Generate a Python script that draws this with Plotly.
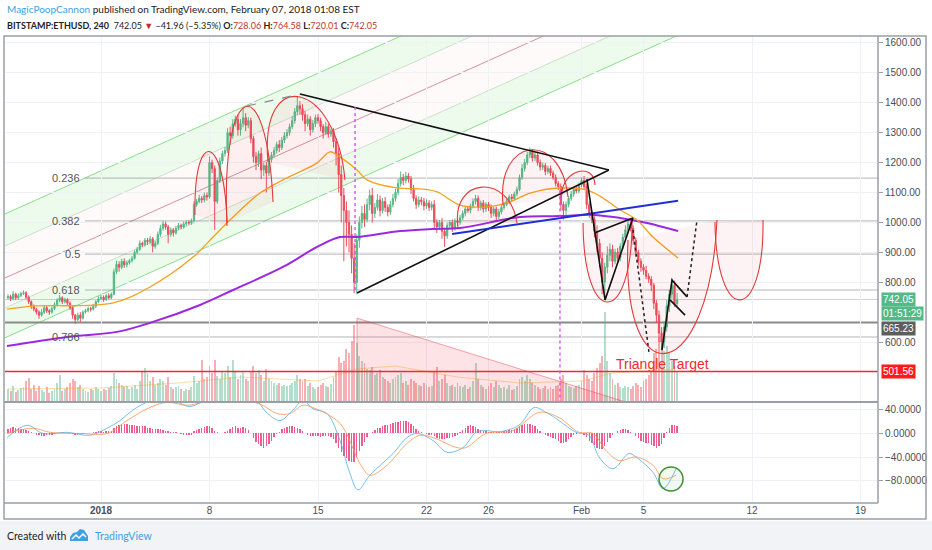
import plotly.graph_objects as go

# ---------------------------------------------------------------
# BITSTAMP:ETHUSD, 240 (4h candles) -- x is "days since 1 Jan 2018"
# ---------------------------------------------------------------
start_day = -6          # first candle: 26 Dec 2017 00:00
first_open = 748

closes = [
    752, 745, 760, 748, 755, 762,        # Dec 26
    765, 750, 735, 720, 710, 700,        # Dec 27
    690, 700, 715, 705, 700, 712,        # Dec 28
    725, 740, 748, 735, 742, 730,        # Dec 29
    715, 690, 675, 690, 680, 700,        # Dec 30
    705, 712, 710, 720, 735, 745,        # Dec 31
    750, 742, 755, 748, 760, 835,        # Jan 1
    860, 850, 870, 858, 865, 872,        # Jan 2
    880, 900, 910, 930, 925, 940,        # Jan 3
    935, 945, 920, 930, 960, 980,        # Jan 4
    995, 985, 960, 975, 965, 980,        # Jan 5
    990, 985, 995, 1000, 998, 1005,      # Jan 6
    1060, 1070, 1080, 1075, 1090, 1085,  # Jan 7
    1200, 1180, 1070, 1140, 1205, 1230,  # Jan 8
    1240, 1300, 1290, 1330, 1345, 1310,  # Jan 9
    1330, 1350, 1325, 1340, 1280, 1220,  # Jan 10
    1200, 1230, 1175, 1190, 1165, 1210,  # Jan 11
    1225, 1240, 1260, 1250, 1275, 1290,  # Jan 12
    1300, 1320, 1340, 1370, 1390, 1380,  # Jan 13
    1360, 1330, 1345, 1310, 1330, 1350,  # Jan 14
    1340, 1320, 1300, 1320, 1295, 1305,  # Jan 15
    1270, 1230, 1160, 1090, 1040, 1000,  # Jan 16
    960, 880, 800, 940, 1000, 1030,      # Jan 17
    1010, 1060, 1090, 1030, 1050, 1075,  # Jan 18
    1040, 1070, 1050, 1035, 1060, 1080,  # Jan 19
    1100, 1130, 1150, 1140, 1155, 1145,  # Jan 20
    1110, 1080, 1060, 1075, 1070, 1055,  # Jan 21
    1065, 1050, 1060, 1000, 985, 1000,   # Jan 22
    970, 955, 990, 1000, 980, 1005,      # Jan 23
    1000, 1015, 1030, 1045, 1040, 1055,  # Jan 24
    1070, 1080, 1050, 1065, 1045, 1060,  # Jan 25
    1050, 1030, 1045, 1020, 1035, 1050,  # Jan 26
    1060, 1070, 1085, 1080, 1095, 1110,  # Jan 27
    1150, 1180, 1200, 1225, 1235, 1215,  # Jan 28
    1225, 1200, 1185, 1190, 1170, 1180,  # Jan 29
    1165, 1150, 1130, 1120, 1060, 1040,  # Jan 30
    1060, 1080, 1095, 1110, 1105, 1125,  # Jan 31
    1140, 1120, 1060, 1030, 1010, 970,   # Feb 1
    930, 880, 800, 850, 890, 910,        # Feb 2
    870, 900, 880, 920, 950, 975,        # Feb 3
    995, 980, 940, 900, 870, 850,        # Feb 4
    840, 820, 810, 790, 730, 690,        # Feb 5
    630, 600, 650, 720, 760, 790,        # Feb 6
    728.06, 742.05,                      # Feb 7
]

# wick above max(open, close) / below min(open, close), in USD
wick_up = [
    8, 6, 10, 5, 8, 6,   8, 5, 6, 4, 6, 5,   6, 10, 8, 6, 5, 7,   8, 6, 9, 5, 6, 5,
    6, 5, 4, 8, 10, 6,   6, 7, 6, 8, 7, 8,   8, 6, 7, 8, 6, 10,   12, 10, 8, 10, 8, 6,
    8, 6, 8, 10, 6, 8,   8, 10, 6, 8, 10, 12,   10, 8, 6, 8, 6, 8,   8, 6, 8, 6, 7, 8,
    10, 8, 12, 8, 10, 10,   20, 10, 10, 10, 12, 10,   12, 15, 20, 15, 12, 15,
    15, 33, 15, 12, 10, 10,   15, 10, 20, 10, 12, 10,   10, 12, 10, 15, 10, 12,
    12, 10, 15, 12, 30, 15,   15, 12, 15, 10, 12, 10,   12, 10, 8, 15, 10, 8,
    10, 12, 20, 30, 25, 30,   40, 30, 50, 20, 20, 25,   30, 20, 20, 25, 15, 20,
    15, 12, 15, 10, 12, 15,   12, 15, 20, 12, 14, 10,   10, 15, 10, 12, 10, 12,
    12, 10, 10, 15, 10, 8,   15, 12, 10, 8, 10, 8,   8, 10, 10, 8, 10, 8,
    10, 12, 10, 8, 10, 8,   8, 10, 8, 8, 10, 8,   8, 10, 8, 10, 8, 10,
    10, 15, 12, 10, 15, 10,   10, 12, 10, 10, 8, 10,   10, 8, 10, 8, 10, 10,
    10, 8, 10, 8, 10, 8,   10, 15, 10, 10, 8, 10,   20, 15, 20, 15, 30, 20,
    15, 12, 15, 10, 12, 15,   15, 12, 10, 10, 8, 10,   10, 15, 10, 10, 8, 10,
    15, 20, 20, 20, 15, 25,   15, 22.53,
]
wick_dn = [
    6, 8, 5, 7, 6, 5,   5, 6, 8, 10, 7, 8,   12, 5, 6, 8, 9, 5,   5, 6, 7, 8, 6, 9,
    8, 12, 15, 6, 14, 5,   5, 6, 8, 5, 6, 5,   5, 7, 5, 6, 5, 4,   8, 15, 6, 10, 8, 6,
    6, 5, 6, 5, 8, 6,   10, 8, 20, 8, 6, 8,   8, 10, 30, 8, 12, 6,   6, 8, 6, 8, 6, 6,
    5, 8, 6, 10, 8, 12,   6, 15, 95, 8, 8, 10,   10, 8, 30, 10, 10, 20,
    20, 12, 20, 10, 15, 20,   25, 15, 30, 20, 65, 10,   10, 8, 10, 15, 8, 10,
    10, 10, 8, 10, 12, 20,   20, 25, 10, 20, 10, 12,   10, 15, 20, 8, 12, 10,
    20, 40, 60, 90, 170, 80,   60, 50, 36, 40, 25, 20,   25, 10, 20, 30, 15, 10,
    20, 10, 15, 15, 10, 10,   10, 10, 10, 15, 10, 12,   15, 10, 15, 10, 12, 15,
    10, 12, 10, 20, 20, 10,   25, 37, 10, 10, 12, 8,   10, 8, 8, 10, 8, 10,
    8, 10, 12, 10, 12, 10,   12, 15, 10, 15, 8, 8,   8, 6, 8, 8, 6, 8,
    6, 8, 10, 8, 10, 12,   10, 10, 12, 10, 12, 8,   10, 8, 10, 12, 20, 30,
    15, 10, 8, 10, 8, 8,   8, 10, 15, 15, 12, 20,   30, 30, 40, 60, 20, 20,
    20, 10, 15, 10, 10, 8,   10, 10, 15, 15, 12, 15,   15, 10, 12, 20, 20, 25,
    30, 27, 20, 15, 20, 15,   10, 8.05,
]

# volume (relative units, panel overlay)
volume = [
    12, 10, 15, 9, 11, 13,   14, 20, 23, 12, 16, 10,   15, 11, 9, 14, 8, 10,
    12, 18, 26, 10, 12, 14,   18, 22, 20, 14, 16, 12,   10, 9, 12, 11, 14, 12,
    10, 12, 11, 13, 15, 28,   22, 18, 16, 14, 15, 12,   14, 16, 12, 20, 30, 33,
    28, 20, 24, 16, 18, 22,   20, 16, 24, 14, 12, 14,   15, 12, 10, 12, 11, 14,
    25, 18, 20, 41, 22, 24,   35, 28, 41, 25, 22, 30,   28, 35, 24, 41, 30, 22,
    26, 30, 22, 20, 30, 35,   28, 31, 26, 20, 32, 22,   20, 18, 16, 18, 15, 16,
    15, 16, 18, 20, 26, 22,   20, 22, 15, 18, 14, 12,   14, 16, 18, 15, 14, 17,
    24, 30, 44, 38, 40, 52,   48, 60, 76, 58, 45, 40,   38, 32, 31, 34, 26, 28,
    31, 24, 22, 20, 18, 22,   24, 26, 28, 18, 20, 16,   22, 20, 18, 16, 15, 18,
    16, 14, 15, 30, 34, 20,   22, 26, 18, 15, 16, 14,   18, 15, 14, 16, 12, 14,
    20, 38, 22, 16, 14, 12,   15, 18, 14, 20, 16, 13,   14, 12, 16, 11, 12, 15,
    22, 24, 20, 26, 22, 18,   16, 14, 12, 13, 15, 12,   14, 12, 15, 16, 22, 26,
    18, 15, 14, 13, 15, 16,   20, 31, 26, 22, 20, 28,   33, 38, 45, 89, 40, 28,
    22, 16, 18, 14, 13, 15,   14, 12, 15, 18, 16, 14,   20, 22, 26, 30, 48, 52,
    64, 58, 50, 55, 48, 40,   35, 30,
]
vol_ma_x = [-6, 0, 5, 9, 14, 16.5, 19, 23, 27, 31, 33, 37]
vol_ma_y = [12, 13, 18, 24, 20, 32, 35, 24, 18, 20, 28, 32]

# MACD histogram, one bar per candle
macd_hist = [
    8, 10, 11, 10, 9, 8,   7, 6, 4, 2, 0, -2,   -3, -4, -4, -3, -2, -2,
    -1, 0, 1, 2, 1, 1,   0, -1, -2, -2, -1, -1,   0, 1, 1, 2, 3, 4,
    4, 3, 4, 5, 5, 9,   13, 15, 16, 17, 16, 15,   14, 14, 13, 13, 12, 12,
    10, 10, 8, 7, 7, 7,   6, 5, 4, 3, 3, 2,   0, -1, -2, -3, -3, -2,
    4, 6, 7, 9, 11, 12,   13, 10, 5, 2, 0, 1,   2, 5, 8, 11, 12, 10,
    10, 11, 9, 6, 0, -8,   -14, -18, -22, -24, -22, -18,   -12, -6, -1, 3, 7, 10,
    11, 12, 12, 11, 10, 8,   4, 0, -2, -4, -5, -5,   -5, -6, -5, -4, -5, -6,
    -10, -16, -24, -32, -38, -42,   -46, -49, -48, -40, -30, -22,   -14, -6, 0, 3, 6, 9,
    10, 12, 14, 15, 16, 18,   19, 20, 21, 22, 21, 20,   16, 12, 8, 5, 3, 0,
    -1, -2, -3, -5, -8, -9,   -10, -10, -8, -7, -6, -4,   -2, 2, 6, 10, 12, 14,
    13, 11, 8, 6, 5, 4,   3, 2, 2, 2, 3, 3,   4, 5, 6, 6, 7, 9,
    12, 14, 16, 17, 17, 15,   12, 8, 4, 1, -2, -4,   -6, -8, -10, -12, -16, -17,
    -14, -10, -6, -3, -1, 0,   0, -2, -6, -12, -16, -20,   -24, -27, -26, -22, -14, -8,
    -3, 1, 4, 6, 8, 8,   6, 3, 0, -4, -8, -12,   -14, -16, -17, -19, -22, -24,
    -22, -18, -8, 3, 10, 14,   14, 13,
]
macd_x = [-6.06, -4.77, -3.74, -2.19, -0.71, 0.39, 1.23, 2.06, 3.16, 4.45, 5.74, 6.71,
          8.32, 9.94, 10.71, 11.55, 12.39, 13.03, 13.68, 14.58, 15.42, 16.06, 16.58,
          17.35, 18.84, 19.74, 20.39, 21.42, 22.32, 23.35, 24.19, 24.84, 25.68, 26.97,
          27.94, 28.71, 29.55, 30.65, 31.48, 32.13, 33.03, 34.06, 34.52, 35.61, 36.26, 37.10]
macd_y = [-7, 14, 0, 2, -3, 9, 22, 40, 55, 58, 46, 56,
          65, 58, 35, 22, 40, 56, 42, 34, -12, -68, -96,
          -71, -34, -7, 0, -12, -32, -24, 2, 5, 3, 14,
          44, 36, 22, 2, -3, -40, -60, -34, -40, -66, -94, -60]
signal_x = [-6.06, -4.39, -3.29, -1.16, 0.39, 1.68, 2.97, 4.26, 5.55, 6.58, 8.32,
            10.26, 11.35, 12.19, 13.03, 13.68, 15.42, 16.71, 17.35, 18.45, 19.74,
            20.58, 21.42, 22.97, 23.55, 24.84, 26.58, 28.26, 29.55, 30.84, 31.74,
            32.58, 33.42, 34.52, 35.61, 36.26, 37.10]
signal_y = [0, 9, 2, 0, 0, 22, 42, 53, 48, 53, 60,
            50, 34, 34, 48, 44, 17, -51, -71, -54, -17,
            -3, -7, -24, -24, 0, 5, 36, 27, 2, 0,
            -29, -46, -40, -54, -77, -71]

# moving averages on price
ema_x = [-6.06, -4.39, 0.77, 3.16, 5.94, 7.23, 8.52, 10.26, 11.74, 13.94, 14.77, 15.23,
         16.52, 17.16, 19.10, 20.58, 21.68, 23.16, 24.90, 26.19, 27.68, 29.61, 31.35,
         32.19, 33.48, 34.58, 35.61, 37.23]
ema_y = [710, 720, 731, 784, 884, 951, 1018, 1098, 1142, 1199, 1236, 1225,
         1175, 1142, 1115, 1112, 1102, 1058, 1052, 1065, 1098, 1115, 1108,
         1088, 1042, 1008, 951, 881]
sma_x = [-6.06, -2.19, 1.03, 3.16, 6.39, 8.52, 11.74, 13.94, 15.42, 16.52, 19.29, 21.42,
         23.16, 27.03, 29.61, 31.74, 33.48, 35.23, 37.23]
sma_y = [587, 617, 634, 664, 724, 774, 851, 918, 951, 951, 971, 978,
         981, 1018, 1021, 1025, 1015, 998, 971]

# fibonacci retracement levels
fib_labels = ["0.236", "0.382", "0.5", "0.618", "0.786"]
fib_prices = [1148, 1005, 894, 774, 617]

# regression channel (upper, +1, mid, -1, lower) at its two ends
chan_days = [-6.2, 40.0]
chan_start = [1028, 921, 814, 714, 614]
chan_end = [2104, 1997, 1890, 1790, 1690]

# arcs: (start day, price, apex day, price, end day, price)
arcs = [
    (6.06, 1025, 7.03, 1236, 8.13, 988),
    (8.13, 998, 9.29, 1386, 11.10, 1068),
    (10.77, 1202, 12.84, 1419, 15.74, 1142),
    (23.03, 985, 24.58, 1118, 26.84, 998),
    (25.94, 1058, 27.68, 1242, 30.13, 1085),
    (29.74, 1092, 30.77, 1169, 31.87, 1125),
    (31.10, 998, 32.71, 734, 34.26, 1008),
    (34.00, 941, 36.52, 563, 39.74, 1008),
    (39.61, 1001, 41.23, 741, 42.71, 1008),
]

# trend-line drawings: lists of (day, price)
triangle_top = [(12.84, 1429), (32.77, 1175)]
triangle_low = [(16.52, 764), (32.77, 1175)]
tops_dash = [(9.42, 1389), (12.84, 1429)]
blue_line = [(22.65, 961), (37.23, 1072)]
flag1 = [(31.35, 1145), (32.52, 741), (34.32, 1015)]
flag1b = [(31.87, 965), (34.32, 1015)]
flag2 = [(36.19, 573), (36.84, 807), (37.81, 751)]
flag2b = [(36.71, 741), (37.68, 690)]
dotted1 = [(34.32, 975), (35.35, 567)]
dotted2 = [(37.81, 751), (38.45, 1008)]
vlines = [(16.39, 774, 1386), (29.61, 395, 1115)]
vol_triangle = [(16.52, 680), (16.52, 395), (34.13, 395)]

last_price = 742.05
hline_grey = 665.23
target = 501.56
# right-axis price tags: text, price where the tag is centred, colour
tags = [("742.05", 742.05, "#53b987"), ("01:51:29", 694, "#53b987"),
        ("665.23", 647, "#5d5d5d"), ("501.56", 501.56, "#ff1a1a")]

tick_days = [0, 7, 14, 21, 25, 31, 35, 42, 49]
tick_text = ["<b>2018</b>", "8", "15", "22", "26", "Feb", "5", "12", "19"]

# ---------------------------------------------------------------
UP, DN = "#53b987", "#eb4d5c"
FONT = "Liberation Sans"
L, R, T, B = 5, 878, 36, 503        # plot area in page pixels


def px(x):
    return (x - L) / (R - L)


def py(y):
    return (B - y) / (B - T)


n = len(closes)
assert all(len(a) == n for a in (wick_up, wick_dn, volume, macd_hist))
opens = [first_open] + closes[:-1]
highs = [max(o, c) + u for o, c, u in zip(opens, closes, wick_up)]
lows = [min(o, c) - d for o, c, d in zip(opens, closes, wick_dn)]
times = [start_day + i / 6 for i in range(n)]
vol_colors = ["rgba(83,185,135,0.45)" if c >= o else "rgba(235,77,92,0.45)"
              for o, c in zip(opens, closes)]

fig = go.Figure()

fig.add_trace(go.Bar(x=times, y=volume, marker_color=vol_colors, marker_line_width=0,
                     width=0.12, xaxis="x", yaxis="y3", hoverinfo="skip"))
fig.add_trace(go.Scatter(x=vol_ma_x, y=vol_ma_y, mode="lines", xaxis="x", yaxis="y3",
                         line=dict(color="rgba(255,152,0,0.35)", width=1)))

fig.add_trace(go.Scatter(x=sma_x, y=sma_y, mode="lines", line=dict(color="#9c27e0", width=2),
                         line_shape="spline"))
fig.add_trace(go.Scatter(x=ema_x, y=ema_y, mode="lines", line=dict(color="#f4a21c", width=1.3),
                         line_shape="spline"))
fig.add_trace(go.Candlestick(
    x=times, open=opens, high=highs, low=lows, close=closes,
    increasing=dict(line=dict(color=UP, width=1), fillcolor=UP),
    decreasing=dict(line=dict(color=DN, width=1), fillcolor=DN),
    whiskerwidth=0, hoverinfo="skip"))

# MACD panel
fig.add_trace(go.Bar(x=times, y=macd_hist, marker_color="rgba(236,64,122,0.85)",
                     marker_line_width=0, width=0.09, xaxis="x2", yaxis="y2"))
fig.add_trace(go.Scatter(x=macd_x, y=macd_y, mode="lines", xaxis="x2", yaxis="y2",
                         line=dict(color="rgba(70,170,235,0.75)", width=1), line_shape="spline"))
fig.add_trace(go.Scatter(x=signal_x, y=signal_y, mode="lines", xaxis="x2", yaxis="y2",
                         line=dict(color="rgba(245,150,80,0.8)", width=1), line_shape="spline"))

shapes = []


def seg(points, color, width=1.5, dash="solid", layer="above"):
    d = "M " + " L ".join(f"{x},{y}" for x, y in points)
    shapes.append(dict(type="path", path=d, xref="x", yref="y", layer=layer,
                       line=dict(color=color, width=width, dash=dash)))


# regression channel bands
band_fill = ["rgba(60,210,60,0.09)", "rgba(240,120,120,0.035)",
             "rgba(240,120,120,0.035)", "rgba(60,210,60,0.09)"]
for i in range(4):
    a0, a1 = chan_start[i], chan_end[i]
    b0, b1 = chan_start[i + 1], chan_end[i + 1]
    d = (f"M {chan_days[0]},{a0} L {chan_days[1]},{a1} L {chan_days[1]},{b1} "
         f"L {chan_days[0]},{b0} Z")
    shapes.append(dict(type="path", path=d, xref="x", yref="y", layer="below",
                       fillcolor=band_fill[i], line_width=0))
chan_colors = ["#86df86", "rgba(130,170,130,0.35)", "rgba(200,110,125,0.75)",
               "rgba(130,170,130,0.35)", "#86df86"]
for i in range(5):
    seg([(chan_days[0], chan_start[i]), (chan_days[1], chan_end[i])], chan_colors[i], 1, layer="below")

# fib lines and full-width levels
for p in fib_prices:
    seg([(-1.03, p), (51, p)], "rgba(120,120,120,0.55)", 1, layer="below")
seg([(-7, last_price), (51, last_price)], "rgba(150,150,150,0.45)", 1, layer="below")
seg([(-7, hline_grey), (51, hline_grey)], "#8a8a8a", 2, layer="below")
seg([(-7, target), (51, target)], "#f02b2b", 1.3)

# volume triangle
d = "M " + " L ".join(f"{x},{y}" for x, y in vol_triangle) + " Z"
shapes.append(dict(type="path", path=d, xref="x", yref="y", layer="above",
                   fillcolor="rgba(242,54,69,0.14)", line=dict(color="rgba(242,54,69,0.45)", width=1)))

# arcs
for x0, y0, xa, ya, x1, y1 in arcs:
    s = (xa - (x0 + x1) / 2) / 0.75
    h = (ya - (y0 + y1) / 2) / 0.75
    curve = f"M {x0},{y0} C {x0 + s},{y0 + h} {x1 + s},{y1 + h} {x1},{y1}"
    shapes.append(dict(type="path", path=curve + " Z", xref="x", yref="y", layer="above",
                       fillcolor="rgba(242,54,69,0.06)", line_width=0))
    shapes.append(dict(type="path", path=curve, xref="x", yref="y", layer="above",
                       line=dict(color="#e23a3a", width=1.1)))

seg(tops_dash, "#888888", 1.2, "dash")
seg(triangle_top, "#111111", 1.6)
seg(triangle_low, "#111111", 1.6)
seg(blue_line, "#1f2fd6", 2)
seg(flag1, "#111111", 1.6)
seg(flag1b, "#111111", 1.6)
seg(flag2, "#111111", 1.6)
seg(flag2b, "#111111", 1.6)
seg(dotted1, "#222222", 1.5, "dot")
seg(dotted2, "#222222", 1.5, "dot")
for x, y0, y1 in vlines:
    seg([(x, y0), (x, y1)], "#e040fb", 1.3, "dot")

# green circle on the MACD
shapes.append(dict(type="circle", xref="x2", yref="y2", x0=36.0, x1=37.55, y0=-97.8, y1=-57,
                   line=dict(color="#3f8f35", width=1.5), fillcolor="rgba(120,200,120,0.1)"))

# frame, separators and page strips
grey = "#9a9ea7"
shapes += [
    dict(type="rect", xref="paper", yref="paper", x0=px(-20), x1=px(960), y0=py(521), y1=py(560),
         fillcolor="#f1f3f7", line_width=0, layer="below"),
    dict(type="rect", xref="paper", yref="paper", x0=px(4), x1=px(926), y0=py(519), y1=py(36),
         line=dict(color=grey, width=1.5), fillcolor="rgba(0,0,0,0)"),
    dict(type="line", xref="paper", yref="paper", x0=px(4), x1=px(878), y0=py(402), y1=py(402),
         line=dict(color=grey, width=2)),
    dict(type="line", xref="paper", yref="paper", x0=px(4), x1=px(878), y0=py(503), y1=py(503),
         line=dict(color=grey, width=1.5)),
    dict(type="line", xref="paper", yref="paper", x0=px(878), x1=px(878), y0=py(503), y1=py(36),
         line=dict(color=grey, width=1.5)),
]

# TradingView logo (small cloud)
logo = [(70, 541), (70, 537), (73, 533), (77, 532), (80, 529), (84, 530), (86, 533), (88, 536), (88, 541)]
shapes.append(dict(type="path", xref="paper", yref="paper",
                   path="M " + " L ".join(f"{px(a)},{py(b)}" for a, b in logo) + " Z",
                   fillcolor="#3ea0e4", line_width=0))
zig = [(72, 539), (76, 535), (79, 538), (83, 534), (86, 537)]
shapes.append(dict(type="path", xref="paper", yref="paper",
                   path="M " + " L ".join(f"{px(a)},{py(b)}" for a, b in zig),
                   line=dict(color="white", width=1.5)))

ann = []
for lab, p in zip(fib_labels, fib_prices):
    ann.append(dict(x=-1.25, y=p, xref="x", yref="y", text=lab, showarrow=False,
                    xanchor="right", yanchor="middle", font=dict(family=FONT, size=11, color="#555")))
ann.append(dict(x=36.2, y=527, xref="x", yref="y", text="Triangle Target", showarrow=False,
                font=dict(family=FONT, size=14, color="#f02b2b")))

for txt, yv, bg in tags:
    ann.append(dict(x=px(881), y=yv, xref="paper", yref="y", text=txt, showarrow=False,
                    xanchor="left", yanchor="middle", bgcolor=bg, borderpad=1,
                    font=dict(family=FONT, size=10, color="white")))

red = "#c0392b"
HEAD = "Lato"
ann += [
    dict(x=px(5), y=py(9), xref="paper", yref="paper", xanchor="left", yanchor="middle",
         showarrow=False, font=dict(family=HEAD, size=10, color="#222"),
         text='<span style="color:#3ea0e4">MagicPoopCannon</span> published on TradingView.com, '
              'February 07, 2018 01:08 EST'),
    dict(x=px(5), y=py(25), xref="paper", yref="paper", xanchor="left", yanchor="middle",
         showarrow=False, font=dict(family=HEAD, size=9, color="#222"),
         text=f'<b>BITSTAMP:ETHUSD, 240</b>  742.05 <span style="color:#c62828">▼</span> '
              f'–41.96 (–5.35%) <b>O:</b><span style="color:{red}">728.06</span> '
              f'<b>H:</b><span style="color:{red}">764.58</span> '
              f'<b>L:</b><span style="color:{red}">720.01</span> '
              f'<b>C:</b><span style="color:{red}">742.05</span>'),
    dict(x=px(5), y=py(536), xref="paper", yref="paper", xanchor="left", yanchor="middle",
         showarrow=False, font=dict(family=HEAD, size=10.5, color="#222"), text="Created with"),
    dict(x=px(93), y=py(536), xref="paper", yref="paper", xanchor="left", yanchor="middle",
         showarrow=False, font=dict(family=HEAD, size=10.5, color="#3ea0e4"), text="TradingView"),
]

xrange = [(L - 101) / 15.5, (R - 101) / 15.5]
gridc = "#eef1f5"
tickfont = dict(family=FONT, size=10, color="#4a4e57")

fig.update_layout(
    width=932, height=550, showlegend=False,
    margin=dict(l=L, r=932 - R, t=T, b=550 - B),
    paper_bgcolor="white", plot_bgcolor="white",
    shapes=shapes, annotations=ann, bargap=0,
    xaxis=dict(domain=[0, 1], range=xrange, anchor="y", tickvals=tick_days, showticklabels=False,
               showgrid=True, gridcolor=gridc, zeroline=False, rangeslider=dict(visible=False),
               fixedrange=True),
    xaxis2=dict(domain=[0, 1], matches="x", anchor="y2", tickvals=tick_days, ticktext=tick_text,
                showgrid=True, gridcolor=gridc, zeroline=False, ticks="", tickfont=tickfont),
    yaxis=dict(domain=[py(401), 1], range=[403, 1623], side="right", anchor="x",
               tickvals=[600, 800, 900, 1000, 1100, 1200, 1300, 1400, 1500, 1600],
               tickformat=".2f", ticks="outside", ticklen=4, tickcolor=grey,
               showgrid=True, gridcolor=gridc, zeroline=False, tickfont=tickfont),
    yaxis3=dict(overlaying="y", range=[0, 365], visible=False, anchor="x"),
    yaxis2=dict(domain=[0, py(403)], range=[-118.3, 51.9], side="right", anchor="x2",
                tickvals=[40, 0, -40, -80], tickformat=".4f", ticks="outside", ticklen=4,
                tickcolor=grey, showgrid=True, gridcolor=gridc, zeroline=False, tickfont=tickfont),
)

# the page's default 8px body margin would push the 932x550 figure off its corner
fig.write_html("out.html", config={"displayModeBar": False},
               post_script="document.body.style.margin='0';")
